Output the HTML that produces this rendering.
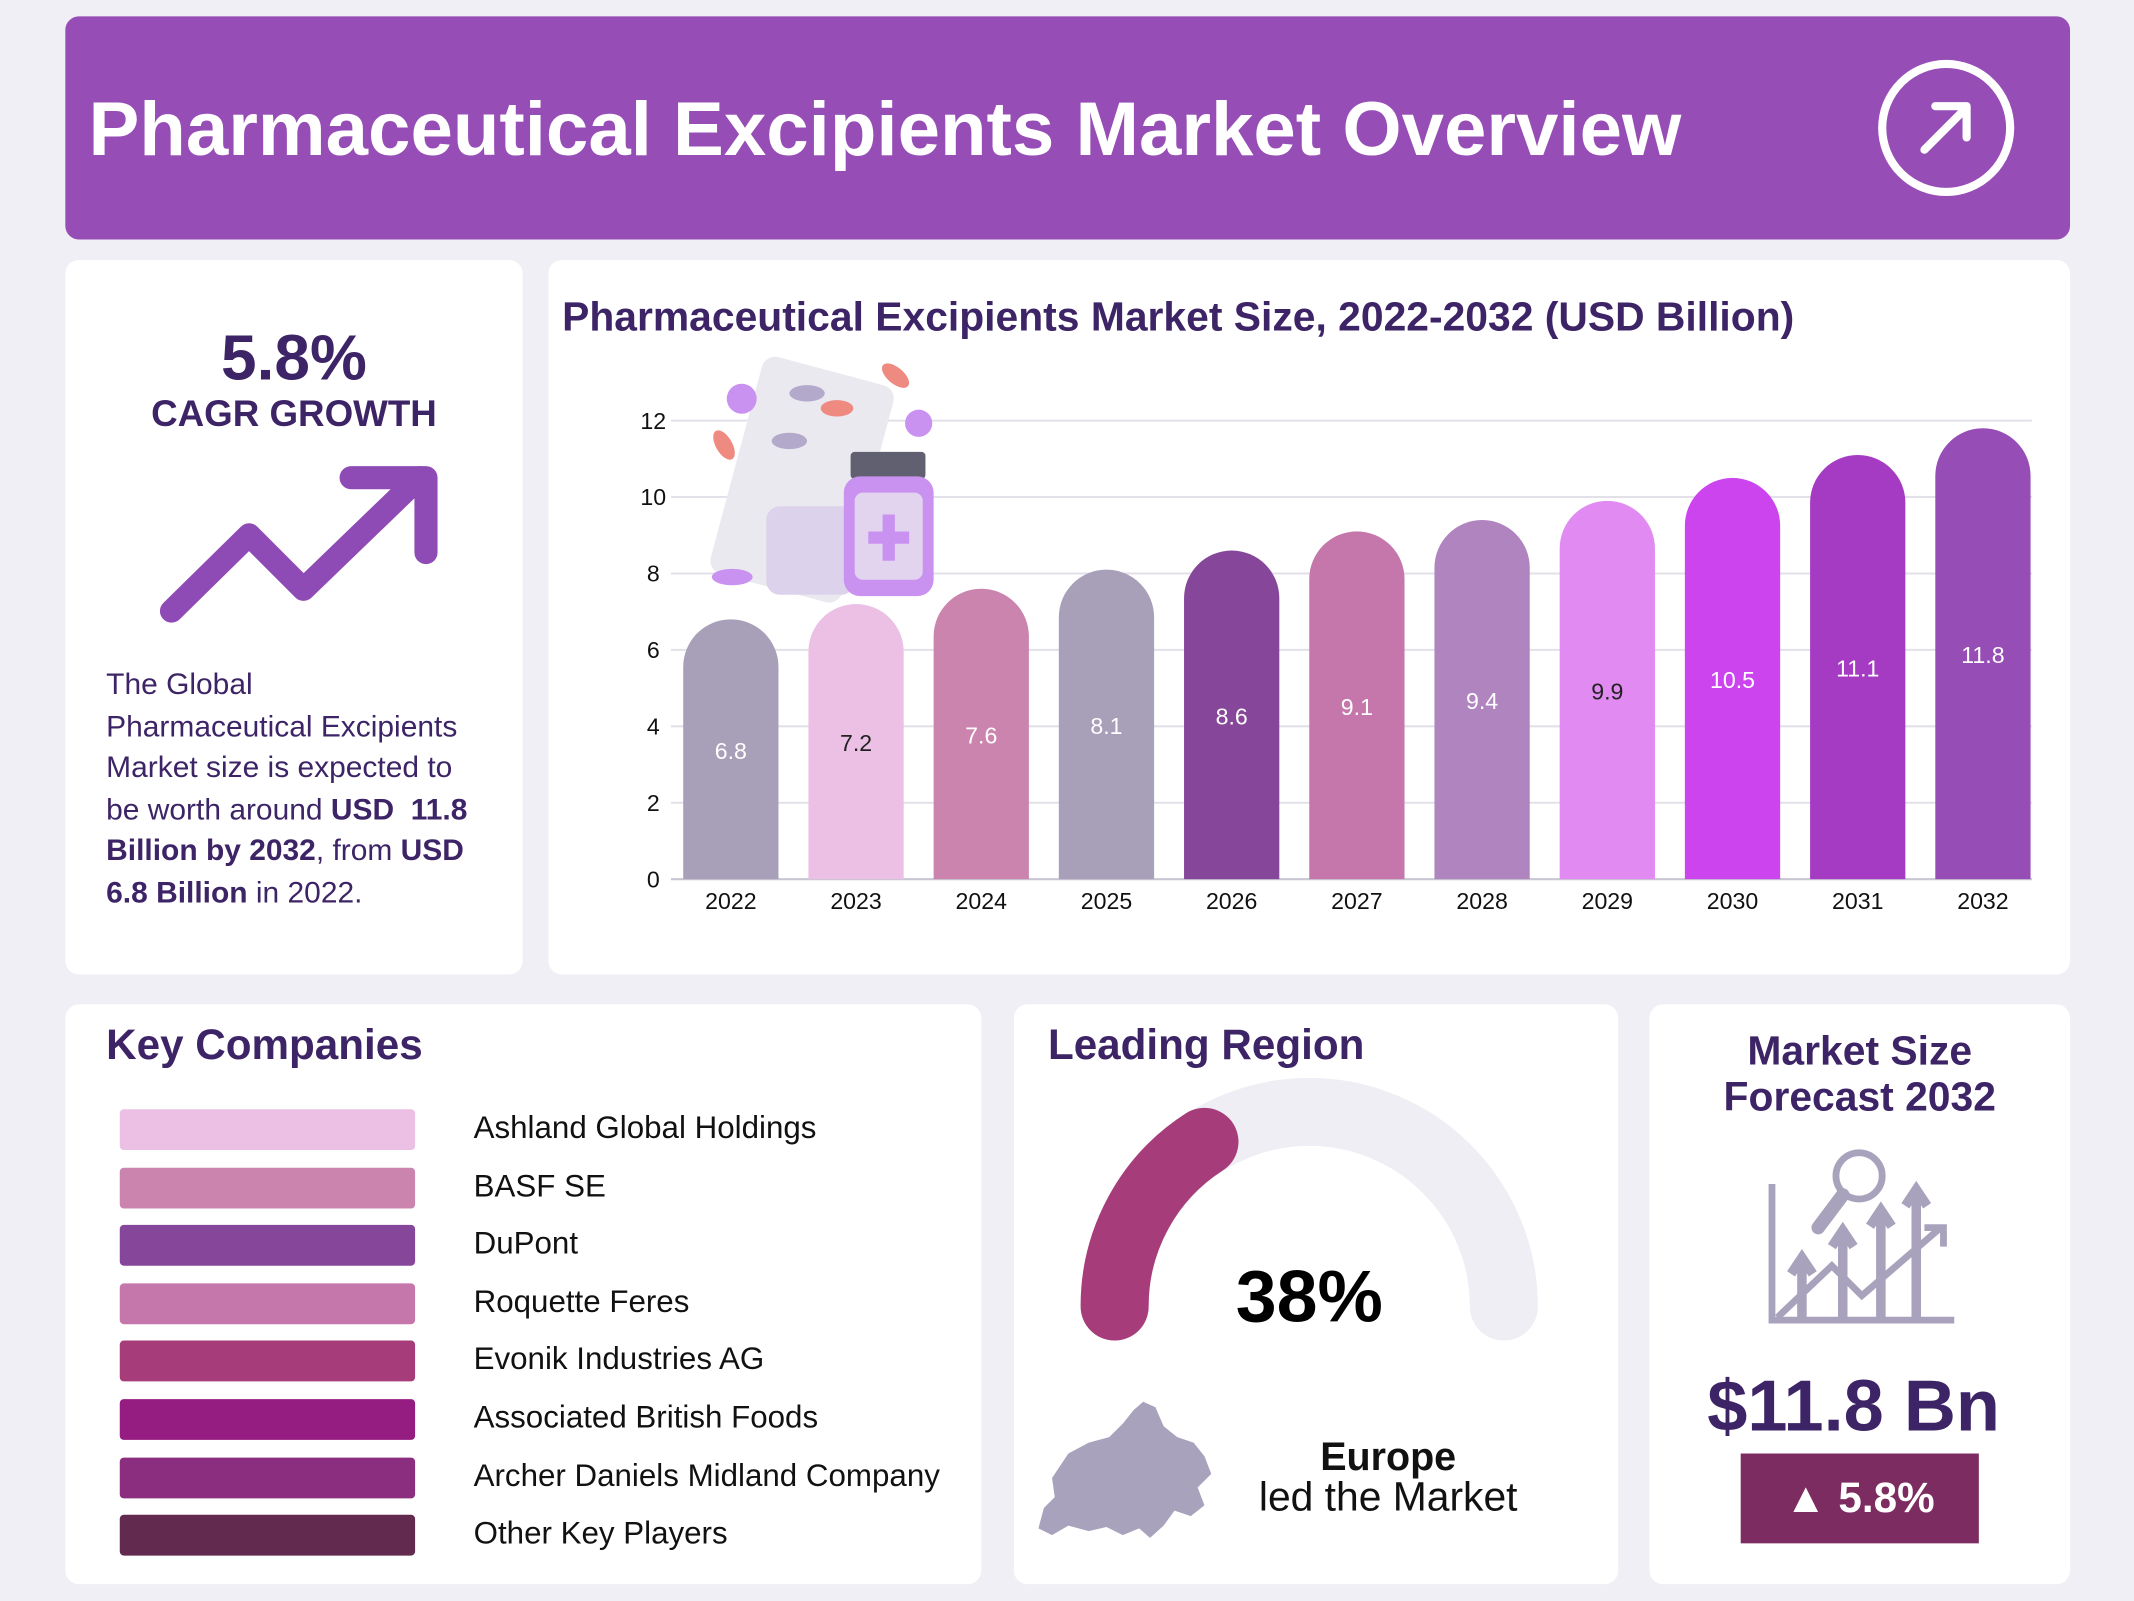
<!DOCTYPE html>
<html><head><meta charset="utf-8">
<style>
html,body{margin:0;padding:0;background:#f0eff5;}
body{width:2134px;height:1600px;overflow:hidden;font-family:"Liberation Sans",sans-serif;}
#wrap{position:absolute;left:0;top:0;width:1568px;height:1176px;transform:scale(1.36097);transform-origin:0 0;background:#f0eff5;}
.card{position:absolute;background:#fff;border-radius:10px;}
.abs{position:absolute;}
.dark{color:#3d2466;}
</style></head><body>
<div id="wrap">
  <div class="card" style="left:48px;top:12px;width:1473px;height:164px;background:#964db5;">
    <div class="abs" style="left:17px;top:50px;font-size:56px;font-weight:bold;color:#fff;">Pharmaceutical Excipients Market Overview</div>
    <svg class="abs" style="left:1330px;top:30px" width="104" height="104" viewBox="0 0 104 104"><circle cx="52" cy="52" r="47" fill="none" stroke="#fff" stroke-width="6"/><path d="M36 68 L66 38 M44 36 H67 V59" fill="none" stroke="#fff" stroke-width="6" stroke-linecap="round" stroke-linejoin="round"/></svg>
  </div>

  <div class="card" style="left:48px;top:191px;width:336px;height:525px;">
    <div class="abs dark" style="left:0;width:336px;top:44px;text-align:center;font-size:47px;font-weight:bold;">5.8%</div>
    <div class="abs dark" style="left:0;width:336px;top:98px;text-align:center;font-size:27px;font-weight:bold;">CAGR GROWTH</div>
    <svg class="abs" style="left:60px;top:150px" width="220" height="130"><path d="M18 108 L75 52 L115 92 L200 10" fill="none" stroke="#8f4bb5" stroke-width="17" stroke-linecap="round" stroke-linejoin="round"/><path d="M150 10 H205 V65" fill="none" stroke="#8f4bb5" stroke-width="17" stroke-linecap="round" stroke-linejoin="round"/></svg>
    <div class="abs" style="left:30px;top:297px;width:310px;font-size:22px;line-height:30.5px;color:#3d2466;white-space:nowrap;">The Global<br>Pharmaceutical Excipients<br>Market size is expected to<br>be worth around <b>USD&nbsp; 11.8</b><br><b>Billion by 2032</b>, from <b>USD</b><br><b>6.8 Billion</b> in 2022.</div>
  </div>

  <div class="card" style="left:403px;top:191px;width:1118px;height:525px;">
    <div class="abs dark" style="left:10px;top:26px;font-size:30px;font-weight:bold;">Pharmaceutical Excipients Market Size, 2022-2032 (USD Billion)</div>
  </div>
  <svg id="chart" class="abs" style="left:0;top:0" width="1568" height="720"></svg>

  <div class="card" style="left:48px;top:738px;width:673px;height:426px;">
    <div class="abs dark" style="left:30px;top:12px;font-size:31px;font-weight:bold;">Key Companies</div>
    <div id="legend"></div>
  </div>

  <div class="card" style="left:745px;top:738px;width:444px;height:426px;">
    <div class="abs dark" style="left:25px;top:12px;font-size:31px;font-weight:bold;">Leading Region</div>
  </div>
  <svg class="abs" style="left:745px;top:738px" width="444" height="426">
    <path d="M74 222 A143 143 0 0 1 360 222" fill="none" stroke="#efeef4" stroke-width="50" stroke-linecap="round"/>
    <path d="M74 222 A143 143 0 0 1 140 101" fill="none" stroke="#a63c7a" stroke-width="50" stroke-linecap="round"/>
    <text x="217" y="233" text-anchor="middle" font-size="54" font-weight="bold" fill="#000" font-family="Liberation Sans, sans-serif">38%</text>
    <path d="M28 348 L40 330 L55 322 L70 318 L80 308 L88 298 L95 292 L104 296 L110 310 L120 318 L132 322 L140 332 L145 345 L135 355 L140 368 L130 376 L118 372 L110 383 L100 392 L92 385 L80 390 L68 384 L55 387 L40 383 L28 390 L18 385 L22 370 L30 362 Z" fill="#a9a2bc"/>
    <text x="275" y="342" text-anchor="middle" font-size="29" font-weight="bold" fill="#111" font-family="Liberation Sans, sans-serif">Europe</text>
    <text x="275" y="372" text-anchor="middle" font-size="30" fill="#111" font-family="Liberation Sans, sans-serif">led the Market</text>
  </svg>

  <div class="card" style="left:1212px;top:738px;width:309px;height:426px;">
    <div class="abs dark" style="left:0;width:309px;top:18px;text-align:center;font-size:30px;font-weight:bold;line-height:34px;">Market Size<br>Forecast 2032</div>
    <svg class="abs" style="left:84px;top:102px" width="140" height="136" fill="none" stroke="#a9a2bc" stroke-width="5">
      <path d="M6 30 V130 H140"/><circle cx="70" cy="24" r="17"/><path d="M58 38 L40 62" stroke-width="10" stroke-linecap="round"/>
      <path d="M28 130 V90 M20 96 L28 84 L36 96 M58 130 V70 M50 76 L58 64 L66 76 M86 130 V55 M78 61 L86 49 L94 61 M112 130 V40 M104 46 L112 34 L120 46" stroke-width="7"/>
      <path d="M10 128 L50 90 L72 112 L130 62 M118 62 H132 V76"/>
    </svg>
    <div class="abs dark" style="left:0;width:300px;top:265px;text-align:center;font-size:53px;font-weight:bold;">$11.8 Bn</div>
    <div class="abs" style="left:67px;top:330px;width:175px;height:66px;background:#7d2c62;color:#fff;font-size:31px;font-weight:bold;line-height:66px;text-align:center;">&#9650; 5.8%</div>
  </div>
</div>
<script>
const years=['2022','2023','2024','2025','2026','2027','2028','2029','2030','2031','2032'];
const values=[6.8,7.2,7.6,8.1,8.6,9.1,9.4,9.9,10.5,11.1,11.8];
const valueLabels=['6.8','7.2','7.6','8.1','8.6','9.1','9.4','9.9','10.5','11.1','11.8'];
const yTicks=[0,2,4,6,8,10,12];
const barColors=['#a89fb8','#ecc0e4','#cb84ae','#a89fb8','#86479a','#c577ab','#b084bf','#e08af2','#cb44ee','#a53bc2','#964db5'];
const companies=['Ashland Global Holdings','BASF SE','DuPont','Roquette Feres','Evonik Industries AG','Associated British Foods','Archer Daniels Midland Company','Other Key Players'];
const companyColors=['#ecc0e4','#cb84ae','#86479a','#c577ab','#a63c7a','#951c80','#8b2e7f','#632a4f'];

const NS='http://www.w3.org/2000/svg';
const svg=document.getElementById('chart');
const y=v=>646-v*28.08;
const x=i=>537+i*92;
const bw=70;
function mk(t,a){const e=document.createElementNS(NS,t);for(const k in a)e.setAttribute(k,a[k]);svg.appendChild(e);return e;}
yTicks.forEach(t=>{
  const l=mk('line',{x1:493,x2:1493,y1:y(t),y2:y(t),stroke:t===0?'#c8c6d2':'#e2e0e8','stroke-width':1.5});
  
  
  const tx=mk('text',{x:480,y:y(t)+6,'text-anchor':'middle','font-size':17,fill:'#111','font-family':'Liberation Sans, sans-serif'});
  tx.textContent=t;
  
  
});
const deco=mk('g',{});


deco.innerHTML='<rect x="540" y="270" width="100" height="165" rx="10" fill="#ebe9f0" transform="rotate(15 590 350)"/><ellipse cx="593" cy="289" rx="13" ry="6" fill="#b3aacb"/><ellipse cx="580" cy="324" rx="13" ry="6" fill="#b3aacb"/><ellipse cx="615" cy="300" rx="12" ry="6" fill="#ef8a80"/><ellipse cx="545" cy="293" rx="11" ry="11" fill="#c992f0"/><circle cx="675" cy="311" r="10" fill="#c992f0"/><ellipse cx="658" cy="276" rx="6" ry="12" fill="#ef8a80" transform="rotate(-50 658 276)"/><ellipse cx="532" cy="327" rx="6" ry="12" fill="#ef8a80" transform="rotate(-30 532 327)"/><ellipse cx="538" cy="424" rx="15" ry="6" fill="#c992f0"/><rect x="563" y="372" width="65" height="65" rx="10" fill="#ddd2ec"/><rect x="625" y="332" width="55" height="20" rx="3" fill="#606070"/><rect x="620" y="350" width="66" height="88" rx="12" fill="#c992f0"/><rect x="628" y="362" width="50" height="64" rx="6" fill="#e2d4ef"/><path d="M653 378 V412 M638 395 H668" stroke="#c992f0" stroke-width="9"/>';
values.forEach((v,i)=>{
  const top=y(v),bot=y(0),r=bw/2,l=x(i)-r;
  const p=mk('path',{d:`M${l} ${bot} V${top+r} A${r} ${r} 0 0 1 ${l+bw} ${top+r} V${bot} Z`,fill:barColors[i]});
  
  
  const vt=mk('text',{x:x(i),y:(top+bot)/2+7,'text-anchor':'middle','font-size':17,fill:i===1||i===7?'#222':'#fff','font-family':'Liberation Sans, sans-serif'});
  vt.textContent=valueLabels[i];
  
  
  const xt=mk('text',{x:x(i),y:668,'text-anchor':'middle','font-size':17,fill:'#111','font-family':'Liberation Sans, sans-serif'});
  xt.textContent=years[i];
  
  
});
const leg=document.getElementById('legend');
companies.forEach((c,i)=>{
  const sw=document.createElement('div');
  sw.className='abs';
  sw.style.cssText=`left:40px;top:${77+i*42.6}px;width:217px;height:30px;background:${companyColors[i]};border-radius:3px;`;
  
  
  leg.appendChild(sw);
  const t=document.createElement('div');
  t.className='abs';
  t.style.cssText=`left:300px;top:${75+i*42.6}px;font-size:23px;line-height:30px;color:#111;white-space:nowrap;`;
  t.textContent=c;
  
  
  leg.appendChild(t);
});
</script>
</body></html>
